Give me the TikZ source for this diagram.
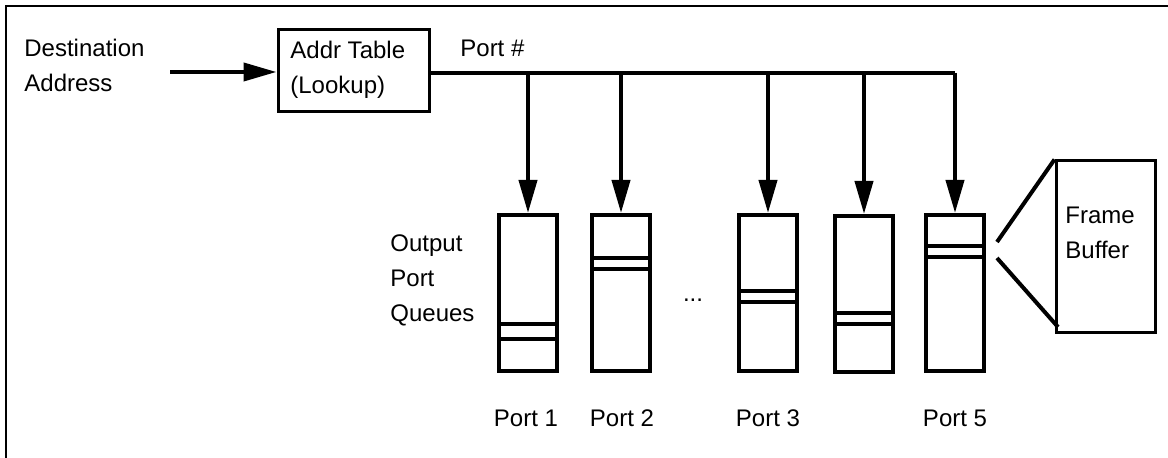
\documentclass[tikz,border=0pt]{standalone}
\usepackage{fontspec}
\setmainfont{Liberation Sans}
\usetikzlibrary{arrows.meta,calc}
\begin{document}
\begin{tikzpicture}[x=0.5pt,y=-0.5pt,
  txt/.style={font=\fontsize{12}{17.5}\selectfont, align=left, inner sep=0pt},
  boxnode/.style={draw, line width=1.5pt, inner sep=0pt},
  queue/.style={draw, line width=2pt, inner sep=0pt, minimum width=29pt, minimum height=78pt},
  bar/.style={line width=2pt},
  arr/.style={line width=2pt, -{Triangle[length=16.5pt,width=9pt]}},
  frameline/.style={line width=1pt}]
\useasboundingbox (0,0) rectangle (1168,458);
% outer frame (top and left only)
\draw[frameline] (6,458) -- (6,6) -- (1168,6);
% input
\node[txt, anchor=west] (dest) at (24,65) {Destination\\Address};
\node[boxnode, minimum width=75.5pt, minimum height=41pt] (addr) at (353.5,71) {};
\node[txt, anchor=west] (addrtxt) at (290,69.5) {Addr Table\\(Lookup)};
\coordinate (inp) at (170,72);
\draw[arr] (inp) -- (addr.west |- inp);
\node[txt, anchor=west] (porthash) at (460,48) {Port \#};
% queues
\node[queue] (q1) at (528,293) {};
\node[queue] (q2) at (621,293) {};
\node[queue] (q3) at (768,293) {};
\node[queue] (q4) at (864,294) {};
\node[queue] (q5) at (955,293) {};
% bus
\coordinate (b1) at (q1.north |- 0,73);
\coordinate (b2) at (q2.north |- 0,73);
\coordinate (b3) at (q3.north |- 0,73);
\coordinate (b4) at (q4.north |- 0,73);
\coordinate (b5) at (q5.north |- 0,73);
\draw[line width=1.8pt] (addr.east |- b1) -- (b5);
\foreach \i in {1,...,5}{\draw[arr] (b\i) -- (q\i.north);}
% bars
\foreach \q/\ya/\yb in {q1/324/339, q2/258/269, q3/291/302, q4/313/324, q5/246/257}{
  \draw[bar] (\q.west |- 0,\ya) -- (\q.east |- 0,\ya);
  \draw[bar] (\q.west |- 0,\yb) -- (\q.east |- 0,\yb);
}
\node[txt, anchor=west] (opq) at (390,280) {Output\\Port\\Queues};
\node[txt] (dots) at (693,300) {...};
% port labels
\node[txt] (p1) at (526,418) {Port 1};
\node[txt] (p2) at (622,418) {Port 2};
\node[txt] (p3) at (768,418) {Port 3};
\node[txt] (p5) at (955,418) {Port 5};
% frame buffer
\node[boxnode, minimum width=49.5pt, minimum height=86pt] (fb) at (1105.5,247) {};
\node[txt, anchor=west] (fbtxt) at (1065,233) {Frame\\Buffer};
\coordinate (z1) at (997,242);
\coordinate (z2) at (997,258);
\coordinate (z3) at (1058,327);
\draw[line width=2pt] (z1) -- (fb.north west);
\draw[line width=2pt] (z2) -- (z3);
\end{tikzpicture}
\end{document}
